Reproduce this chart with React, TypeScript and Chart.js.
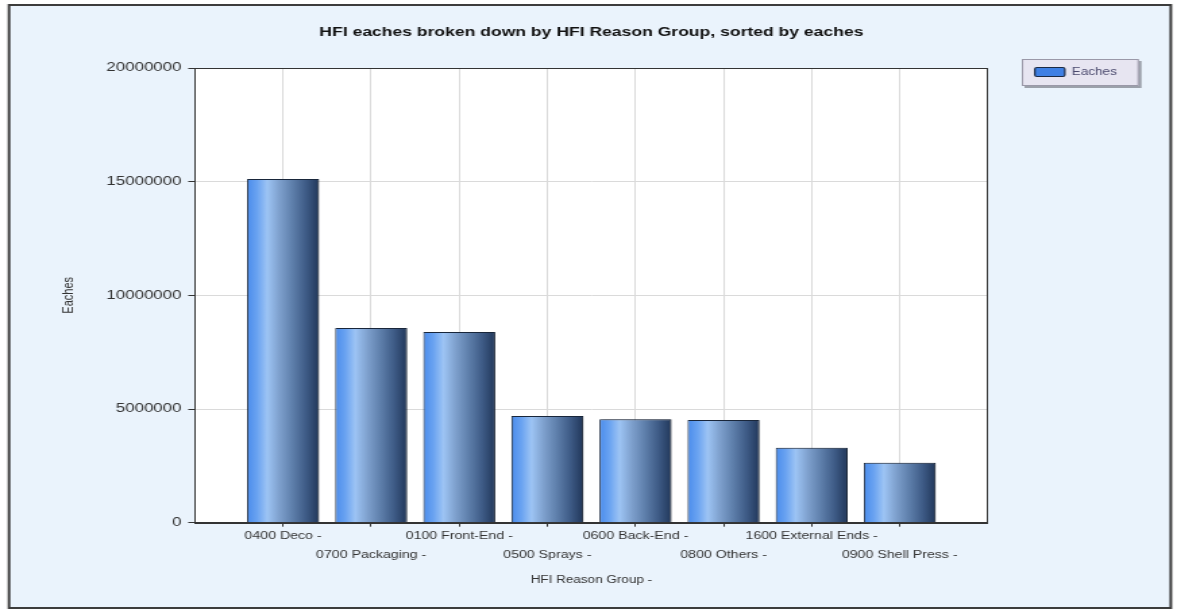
import { useEffect, useRef } from 'react';
import { Chart, registerables } from 'chart.js';

Chart.register(...registerables);

// ---- data ----
const chartTitle = 'HFI eaches broken down by HFI Reason Group, sorted by eaches';
const seriesName = 'Eaches';
const xAxisTitle = 'HFI Reason Group -';
const yAxisTitle = 'Eaches';
const reasonGroups = [
  '0400 Deco -',
  '0700 Packaging -',
  '0100 Front-End -',
  '0500 Sprays -',
  '0600 Back-End -',
  '0800 Others -',
  '1600 External Ends -',
  '0900 Shell Press -',
];
const eaches = [15120000, 8560000, 8390000, 4690000, 4550000, 4520000, 3300000, 2640000];
const yTicks = [0, 5000000, 10000000, 15000000, 20000000];

// ---- geometry (drawing buffer is stretched horizontally to the page width) ----
const VIEW_W = 1177;
const VIEW_H = 610;
const STRETCH = 1.35;
const W = Math.round(VIEW_W / STRETCH);
const PLOT_LEFT = 195 / STRETCH;
const PLOT_RIGHT = 988 / STRETCH;
const PLOT_TOP = 68;
const PLOT_BOTTOM = 522.7;
const PAD_LEFT = 40;
const BAR_PCT = 0.817;

const FONT = "'Liberation Sans', Arial, sans-serif";
const BAR_STOPS: [number, string][] = [
  [0, '#4a8cec'],
  [0.14, '#6aa3f1'],
  [0.28, '#9dc4f4'],
  [0.45, '#7ea0cd'],
  [0.62, '#6081ad'],
  [0.82, '#3e5b86'],
  [1, '#21375a'],
];

// empty slot at each end of the category axis
const slotLabels = ['', ...reasonGroups, ''];
const slotValues = [null, ...eaches, null];

const barFill = (c: any) => {
  const chart = c.chart;
  const xs = chart.scales && chart.scales.x;
  if (!xs || c.dataIndex === undefined || !xs.ticks || xs.ticks.length < 2) return BAR_STOPS[0][1];
  const step = xs.getPixelForTick(1) - xs.getPixelForTick(0);
  const cx = xs.getPixelForValue(c.dataIndex);
  const half = (step * BAR_PCT) / 2;
  const g = chart.ctx.createLinearGradient(cx - half, 0, cx + half, 0);
  BAR_STOPS.forEach(([o, col]) => g.addColorStop(o, col));
  return g;
};

const framePlugin = {
  id: 'frame',
  beforeDraw(chart: any) {
    const { ctx, chartArea } = chart;
    ctx.save();
    ctx.fillStyle = '#ffffff';
    ctx.fillRect(0, 0, chart.width, chart.height);
    const fx = 9 / STRETCH;
    const fr = 1171 / STRETCH;
    ctx.fillStyle = '#eaf3fc';
    ctx.fillRect(fx, 5, fr - fx, 603);
    ctx.strokeStyle = '#3c3c3c';
    ctx.lineWidth = 2;
    ctx.strokeRect(fx, 5, fr - fx, 603);
    ctx.fillStyle = '#ffffff';
    ctx.fillRect(chartArea.left, chartArea.top, chartArea.right - chartArea.left, chartArea.bottom - chartArea.top);
    ctx.restore();
  },
  beforeDatasetsDraw(chart: any) {
    const ctx = chart.ctx;
    ctx.save();
    ctx.shadowColor = 'rgba(0,0,0,0.3)';
    ctx.shadowOffsetX = 1.5;
    ctx.shadowOffsetY = 0;
    ctx.shadowBlur = 2;
  },
  afterDatasetsDraw(chart: any) {
    chart.ctx.restore();
  },
  afterDraw(chart: any) {
    const { ctx, chartArea } = chart;
    ctx.save();
    // plot border
    ctx.strokeStyle = '#333333';
    ctx.lineWidth = 1;
    ctx.strokeRect(
      Math.round(chartArea.left) + 0.5,
      Math.round(chartArea.top) + 0.5,
      Math.round(chartArea.right - chartArea.left),
      Math.round(chartArea.bottom - chartArea.top)
    );
    // title
    ctx.fillStyle = '#111111';
    ctx.font = `bold 13px ${FONT}`;
    ctx.textAlign = 'center';
    ctx.textBaseline = 'middle';
    ctx.fillText(chartTitle, (chartArea.left + chartArea.right) / 2, 32);
    // legend
    const lx = 1022 / STRETCH;
    const lr = 1139 / STRETCH;
    const ly = 59;
    const lh = 27;
    ctx.fillStyle = 'rgba(60,60,70,0.45)';
    ctx.fillRect(lx + 2, ly + 2, lr - lx, lh);
    ctx.fillStyle = '#e7e5f1';
    ctx.fillRect(lx, ly, lr - lx, lh);
    ctx.strokeStyle = '#9a98a8';
    ctx.strokeRect(lx + 0.5, ly + 0.5, lr - lx - 1, lh - 1);
    const sx = 1035 / STRETCH;
    const sw = 30 / STRETCH;
    ctx.fillStyle = '#3f80e4';
    ctx.strokeStyle = '#1b2a44';
    ctx.lineWidth = 1.2;
    ctx.beginPath();
    ctx.roundRect(sx, 67.5, sw, 9, 1.5);
    ctx.fill();
    ctx.stroke();
    ctx.fillStyle = '#4b4a6e';
    ctx.font = `10px ${FONT}`;
    ctx.textAlign = 'left';
    ctx.fillText(seriesName, 1072 / STRETCH, 72);
    ctx.restore();
  },
};

export default function App() {
  const ref = useRef<HTMLCanvasElement>(null);

  useEffect(() => {
    if (!ref.current) return;
    const chart = new Chart(ref.current, {
      type: 'bar',
      data: {
        labels: slotLabels,
        datasets: [
          {
            label: seriesName,
            data: slotValues as any,
            backgroundColor: barFill as any,
            borderColor: '#1b2a40',
            borderWidth: 1,
            categoryPercentage: 1,
            barPercentage: BAR_PCT,
          },
        ],
      },
      options: {
        animation: false,
        responsive: false,
        maintainAspectRatio: false,
        devicePixelRatio: 1,
        layout: {
          padding: { left: PAD_LEFT, right: W - PLOT_RIGHT, top: PLOT_TOP, bottom: 0 },
        },
        plugins: {
          legend: { display: false },
          title: { display: false },
          tooltip: { enabled: false },
        },
        scales: {
          x: {
            type: 'category',
            offset: false,
            afterFit: (s: any) => {
              s.height = VIEW_H - PLOT_BOTTOM;
            },
            grid: {
              offset: false,
              color: '#dadada',
              drawTicks: true,
              tickLength: 4,
              tickColor: (c: any) =>
                c.index === 0 || c.index === slotLabels.length - 1 ? 'rgba(0,0,0,0)' : '#333333',
            },
            border: { display: true, color: '#333333', width: 1 },
            ticks: {
              autoSkip: false,
              maxRotation: 0,
              minRotation: 0,
              padding: 0,
              color: '#333333',
              font: { family: FONT, size: 10.5, lineHeight: 1.8 },
              callback: (_v: any, i: number) => {
                const s = slotLabels[i];
                if (!s) return '';
                return i % 2 === 1 ? s : ['', s];
              },
            },
            title: {
              display: true,
              text: xAxisTitle,
              color: '#333333',
              font: { family: FONT, size: 10, lineHeight: 1.2 },
              padding: { top: 0, bottom: 24 },
            },
          },
          y: {
            type: 'linear',
            min: 0,
            max: 20000000,
            afterFit: (s: any) => {
              s.width = PLOT_LEFT - PAD_LEFT;
            },
            afterBuildTicks: (s: any) => {
              s.ticks = yTicks.map((v) => ({ value: v }));
            },
            grid: {
              color: '#dadada',
              drawTicks: true,
              tickLength: 5,
              tickColor: '#333333',
            },
            border: { display: true, color: '#333333', width: 1 },
            ticks: {
              padding: 5,
              color: '#333333',
              font: { family: FONT, size: 12.5 },
              callback: (v: any) => String(v),
            },
            title: {
              display: true,
              text: yAxisTitle,
              color: '#333333',
              font: { family: FONT, size: 11, lineHeight: 1.2 },
              padding: { top: 4, bottom: 0 },
            },
          },
        },
      },
      plugins: [framePlugin],
    });
    return () => chart.destroy();
  }, []);

  return (
    <canvas
      ref={ref}
      width={W}
      height={VIEW_H}
      style={{
        position: 'fixed',
        left: 0,
        top: 0,
        width: `${VIEW_W}px`,
        height: `${VIEW_H}px`,
      }}
    />
  );
}
